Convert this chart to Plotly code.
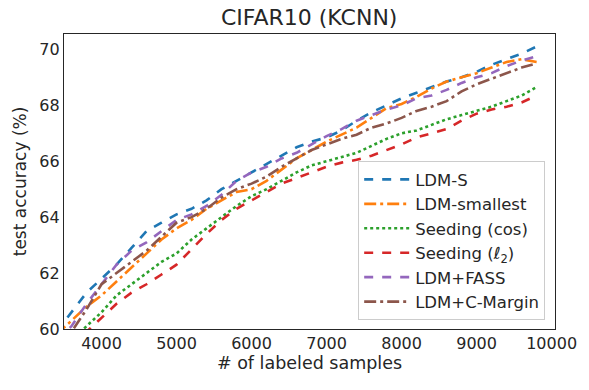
import plotly.graph_objects as go

# number of labeled samples
samples = list(range(3400, 10000, 200))

# test accuracy (%)
ldm_s = [59.9, 60.6, 61.3, 61.8, 62.3, 62.9, 63.5, 63.8, 64.1, 64.3, 64.6,
         65.0, 65.3, 65.6, 65.9, 66.2, 66.5, 66.7, 66.85, 67.1, 67.45, 67.75,
         68.0, 68.25, 68.45, 68.65, 68.85, 69.0, 69.2, 69.45, 69.65, 69.85, 70.1]
ldm_smallest = [59.8, 60.3, 60.8, 61.2, 61.7, 62.2, 62.7, 63.2, 63.6, 63.9, 64.3,
                64.6, 64.9, 65.0, 65.3, 65.7, 66.1, 66.4, 66.7, 66.95, 67.2, 67.55,
                67.9, 68.05, 68.3, 68.6, 68.85, 69.0, 69.15, 69.35, 69.55, 69.65, 69.55]
seeding_cos = [59.2, 59.6, 60.1, 60.6, 61.2, 61.6, 62.0, 62.4, 62.7, 63.2, 63.6,
               64.0, 64.4, 64.75, 65.0, 65.3, 65.6, 65.85, 66.0, 66.15, 66.3, 66.55,
               66.8, 67.0, 67.1, 67.3, 67.5, 67.65, 67.8, 67.95, 68.15, 68.35, 68.65]
seeding_l2 = [59.0, 59.4, 59.9, 60.4, 60.9, 61.3, 61.6, 61.95, 62.3, 62.85, 63.4,
              63.9, 64.3, 64.6, 64.9, 65.2, 65.4, 65.6, 65.8, 65.95, 66.05, 66.2,
              66.4, 66.6, 66.85, 67.0, 67.15, 67.45, 67.7, 67.85, 67.95, 68.1, 68.35]
ldm_fass = [59.6, 60.1, 60.9, 61.6, 62.3, 62.8, 63.1, 63.5, 63.9, 64.1, 64.4,
            64.8, 65.3, 65.6, 65.8, 66.1, 66.3, 66.6, 66.9, 67.15, 67.45, 67.65,
            67.85, 68.0, 68.25, 68.35, 68.55, 68.8, 69.0, 69.15, 69.4, 69.6, 69.75]
ldm_cmargin = [59.5, 59.9, 60.7, 61.6, 62.0, 62.4, 62.8, 63.3, 63.8, 64.0, 64.3,
               64.7, 65.0, 65.2, 65.45, 65.8, 66.1, 66.4, 66.6, 66.8, 66.95, 67.2,
               67.35, 67.55, 67.8, 67.95, 68.15, 68.5, 68.75, 68.95, 69.15, 69.35, 69.5]

x_ticks = [4000, 5000, 6000, 7000, 8000, 9000, 10000]
y_ticks = [60, 62, 64, 66, 68, 70]

series = [
    ('LDM-S', ldm_s, '#1f77b4', 'dash'),
    ('LDM-smallest', ldm_smallest, '#ff7f0e', '12px,4px,3px,4px'),
    ('Seeding (cos)', seeding_cos, '#2ca02c', 'dot'),
    ('Seeding (ℓ<sub>2</sub>)', seeding_l2, '#d62728', 'dash'),
    ('LDM+FASS', ldm_fass, '#9467bd', 'dash'),
    ('LDM+C-Margin', ldm_cmargin, '#8c564b', '12px,4px,3px,4px'),
]

fig = go.Figure()
for name, vals, color, dash in series:
    fig.add_trace(go.Scatter(x=samples, y=vals, mode='lines', name=name,
                             line=dict(color=color, width=2.6, dash=dash)))

axis_style = dict(showgrid=False, zeroline=False, showline=True, linecolor='#262626',
                  linewidth=1.3, mirror=True, ticks='', color='#262626', automargin=False,
                  tickfont=dict(size=16, family='DejaVu Sans', color='#262626'))

fig.update_xaxes(range=[3500, 10045], tickvals=x_ticks, ticktext=[str(v) for v in x_ticks],
                 title=dict(text='# of labeled samples', font=dict(size=17.5), standoff=4),
                 **axis_style)
fig.update_yaxes(range=[60, 70.55], tickvals=y_ticks, ticktext=[str(v) for v in y_ticks],
                 title=dict(text='test accuracy (%)', font=dict(size=17), standoff=8),
                 **axis_style)

fig.update_layout(
    width=589, height=390,
    margin=dict(l=64, r=34, t=34, b=61, autoexpand=False),
    paper_bgcolor='white', plot_bgcolor='white',
    font=dict(family='DejaVu Sans', color='#262626'),
    title=dict(text='CIFAR10 (KCNN)', x=0.525, xanchor='center', y=0.955, yanchor='middle',
               font=dict(size=22, color='#262626')),
    legend=dict(x=0.98, y=0.03, xanchor='right', yanchor='bottom',
                bgcolor='white', bordercolor='#cccccc', borderwidth=1,
                font=dict(size=16.5, color='#262626'), tracegroupgap=0,
                itemwidth=46),
    showlegend=True,
)

# drop the browser's default page margin so the figure sits at (0, 0)
fig.write_html('out.html', config={'displayModeBar': False},
               post_script="document.body.style.margin='0';document.body.style.overflow='hidden';")
